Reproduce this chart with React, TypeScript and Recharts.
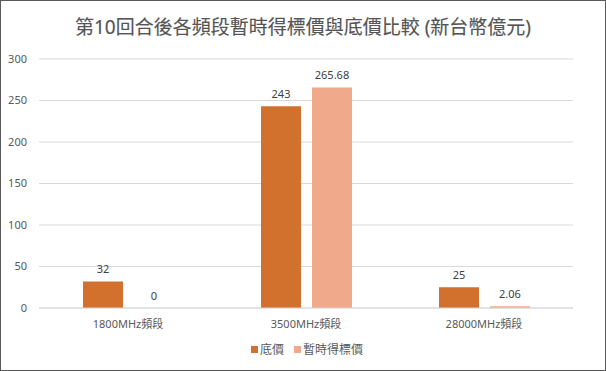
import React from "react";
import {
  BarChart,
  Bar,
  XAxis,
  YAxis,
  CartesianGrid,
  Legend,
  LabelList,
} from "recharts";

const categories = ["1800MHz頻段", "3500MHz頻段", "28000MHz頻段"];
const reservePrice = [32, 243, 25];
const tempWinningBid = [0, 265.68, 2.06];
const yTicks = [0, 50, 100, 150, 200, 250, 300];

const TITLE = "第10回合後各頻段暫時得標價與底價比較 (新台幣億元)";
const FONT = "'Noto Sans', 'Noto Sans CJK TC', sans-serif";

const DARK = "#D2702D";
const LIGHT = "#F1A98B";

const data = categories.map((name, i) => ({
  name,
  reserve: reservePrice[i],
  bid: tempWinningBid[i],
}));

// draw label ourselves so a zero value still shows
const renderLabel = (props: any) => {
  const { x, y, width, value } = props;
  return (
    <text
      x={Number(x) + Number(width) / 2}
      y={Number(y) - 8}
      textAnchor="middle"
      fontSize={11}
      fill="#404040"
      fontFamily={FONT}
    >
      {String(value)}
    </text>
  );
};

// a zero-height bar gets dropped, so give it an invisible sliver to keep its label
const keepZero = (value: any) => (Number(value) === 0 ? 0.01 : 0);

const LegendContent: React.FC<any> = () => {
  const items = [
    { label: "底價", color: DARK },
    { label: "暫時得標價", color: LIGHT },
  ];
  return (
    <div
      style={{
        height: 22,
        display: "flex",
        justifyContent: "center",
        alignItems: "center",
        fontFamily: FONT,
        fontSize: 12,
        color: "#595959",
        paddingLeft: 8,
      }}
    >
      {items.map((it) => (
        <div
          key={it.label}
          style={{ display: "flex", alignItems: "center", margin: "0 5px" }}
        >
          <span
            style={{
              width: 7,
              height: 7,
              background: it.color,
              display: "inline-block",
              marginRight: 2,
            }}
          />
          <span>{it.label}</span>
        </div>
      ))}
    </div>
  );
};

export default function App() {
  return (
    <div
      style={{
        position: "absolute",
        left: 0,
        top: 0,
        width: 606,
        height: 371,
        boxSizing: "border-box",
        border: "1px solid #595959",
        background: "#fff",
      }}
    >
      <div
        style={{
          position: "absolute",
          left: 0,
          top: 13,
          width: 604,
          textAlign: "center",
          fontFamily: FONT,
          fontSize: 19,
          color: "#555",
          lineHeight: "26px",
          WebkitTextStroke: "0.15px #555",
        }}
      >
        {TITLE}
      </div>
      <div style={{ position: "absolute", left: -1, top: -1 }}>
        <BarChart
          width={606}
          height={371}
          data={data}
          margin={{ top: 59, right: 33, left: 0, bottom: 11 }}
          barSize={40}
          barGap={11}
        >
          <CartesianGrid vertical={false} stroke="#D9D9D9" />
          <XAxis
            dataKey="name"
            height={30}
            tickLine={false}
            axisLine={{ stroke: "#D9D9D9" }}
            tick={{ fontSize: 11, fill: "#595959", fontFamily: FONT }}
            tickMargin={6}
          />
          <YAxis
            width={39}
            domain={[0, 300]}
            ticks={yTicks}
            axisLine={false}
            tickLine={false}
            tickMargin={6}
            tick={{ fontSize: 11, fill: "#595959", fontFamily: FONT }}
          />
          <Legend
            verticalAlign="bottom"
            wrapperStyle={{ left: 0, width: 606 }}
            content={<LegendContent />}
          />
          <Bar
            dataKey="reserve"
            name="底價"
            fill={DARK}
            isAnimationActive={false}
          >
            <LabelList dataKey="reserve" content={renderLabel} />
          </Bar>
          <Bar
            dataKey="bid"
            name="暫時得標價"
            fill={LIGHT}
            minPointSize={keepZero}
            isAnimationActive={false}
          >
            <LabelList dataKey="bid" content={renderLabel} />
          </Bar>
        </BarChart>
      </div>
    </div>
  );
}
